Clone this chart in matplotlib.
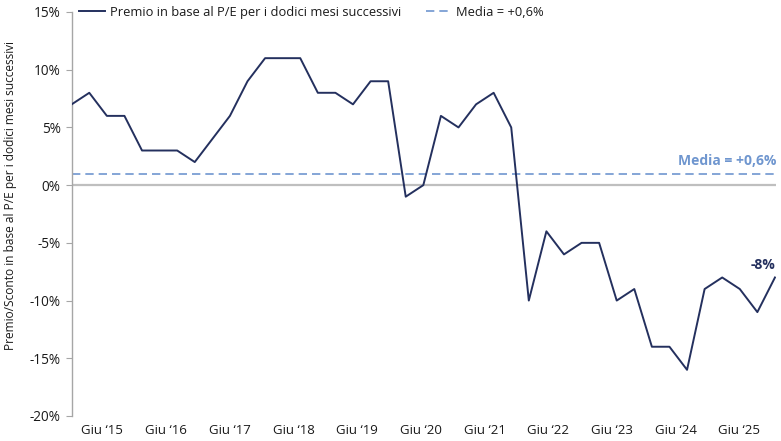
import matplotlib
matplotlib.use('Agg')
import matplotlib.pyplot as plt
import numpy as np

plt.rcParams['font.family'] = ['Open Sans', 'DejaVu Sans']

# premio/sconto P/E, una osservazione per punto
premio = [7, 8, 6, 6, 3, 3, 3, 2, 4, 6, 9, 11, 11, 11, 8, 8, 7, 9, 9,
          -1, 0, 6, 5, 7, 8, 5, -10, -4, -6, -5, -5, -10, -9, -14, -14,
          -16, -9, -8, -9, -11, -8]
media = 1.0
media_label = 'Media = +0,6%'
ultimo_label = '-8%'

anni = ['15', '16', '17', '18', '19', '20', '21', '22', '23', '24', '25']
x_labels = ['Giu \u2018' + a for a in anni]
# posizione delle etichette in unita' di indice (primo giugno ~1.74, passo ~3.62)
x_label_pos = [1.74 + 3.623 * i for i in range(len(anni))]

y_ticks = [15, 10, 5, 0, -5, -10, -15, -20]

NAVY = '#24305e'
LIGHT = '#6f96cf'
GREY = '#bfbfbf'
SPINE = '#a6a6a6'
TXT = '#1a1a1a'

fig = plt.figure(figsize=(7.81, 4.41), dpi=100)
ax = fig.add_axes([0.0918, 0.0567, 0.9018, 0.9161])

x = np.arange(len(premio))
ax.axhline(0, color=GREY, lw=1.6, zorder=1)
ax.axhline(media, color=LIGHT, lw=1.2, ls=(0, (5, 3)), zorder=2,
           label=media_label)
ax.plot(x, premio, color=NAVY, lw=1.4, zorder=3,
        label='Premio in base al P/E per i dodici mesi successivi')

ax.set_xlim(0, 40.06)
ax.set_ylim(-20, 15)
ax.set_yticks(y_ticks)
ax.set_yticklabels([f'{v}%' for v in y_ticks])
ax.set_xticks(x_label_pos)
ax.set_xticklabels(x_labels)

for s in ['top', 'right', 'bottom']:
    ax.spines[s].set_visible(False)
ax.spines['left'].set_color(SPINE)
ax.spines['left'].set_linewidth(1.0)
ax.tick_params(axis='y', length=4, color=SPINE, labelsize=9.8,
               labelcolor=TXT, pad=4)
ax.tick_params(axis='x', length=0, labelsize=9.5, labelcolor=TXT, pad=6)

ax.set_ylabel('Premio/Sconto in base al P/E per i dodici mesi successivi',
              fontsize=8.6, color=TXT)
ax.yaxis.set_label_coords(-0.078, 0.545)

# annotazioni
ax.text(40.06, media + 0.5, media_label, ha='right', va='bottom',
        fontsize=10, fontweight='bold', color=LIGHT)
ax.text(40.0, premio[-1] + 0.5, ultimo_label, ha='right', va='bottom',
        fontsize=10, fontweight='bold', color=NAVY)

handles, labels = ax.get_legend_handles_labels()
leg = ax.legend(handles[::-1], labels[::-1], loc='upper left',
                bbox_to_anchor=(0.0, 1.035), ncol=2, frameon=False,
                fontsize=9.3, handlelength=2.0, handletextpad=0.35,
                columnspacing=1.9, borderaxespad=0.2)
for t in leg.get_texts():
    t.set_color(TXT)

fig.savefig('out.png', dpi=100)
